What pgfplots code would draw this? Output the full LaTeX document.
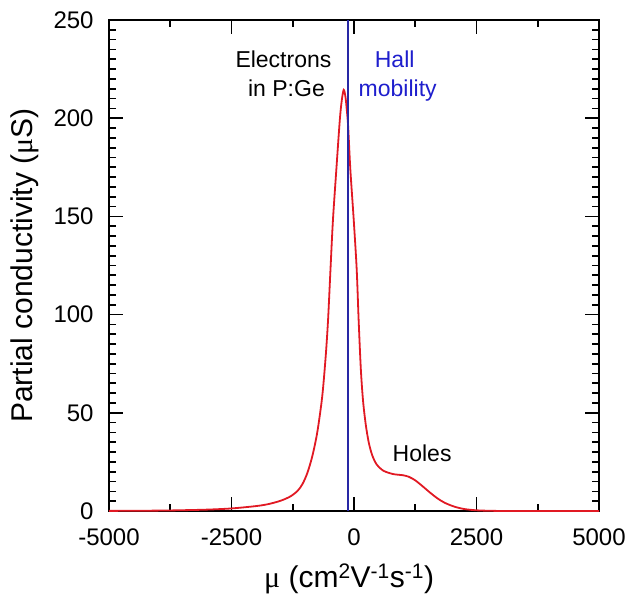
\documentclass[border=0pt]{standalone}
\usepackage{fontspec}
\setmainfont{Liberation Sans}
\newfontfamily\serifmu{Liberation Serif}
\usepackage{pgfplots}
\pgfplotsset{compat=1.18}
\definecolor{curvered}{RGB}{225,25,35}
\definecolor{lineblue}{RGB}{40,40,165}
\definecolor{textblue}{RGB}{30,30,205}

\begin{document}
\begin{tikzpicture}
\begin{axis}[
  at={(109pt,88pt)}, anchor=south west,
  width=490pt, height=491pt, scale only axis,
  xmin=-5000, xmax=5000, ymin=0, ymax=250,
  xtick={-5000,-2500,0,2500,5000},
  xticklabels={-5000,-2500,0,2500,5000},
  minor xtick={-3750,-1250,1250,3750},
  ytick={0,50,100,150,200,250},
  yticklabels={0,50,100,150,200,250},
  minor y tick num=9,
  tick align=inside,
  major tick length=14pt, minor tick length=7pt,
  line width=2.2pt,
  axis line style={line width=2.2pt},
  tick style={line width=1.7pt, black},
  tick label style={font=\fontsize{24}{28}\selectfont},
  xticklabel style={yshift=-13pt},
  yticklabel style={xshift=-11pt},
  xlabel={{\serifmu μ} (cm\textsuperscript{2}V\textsuperscript{-1}s\textsuperscript{-1})},
  ylabel={Partial conductivity ({\serifmu μ}S)},
  label style={font=\fontsize{30}{34}\selectfont},
  xlabel style={at={(axis description cs:0.49,-0.1385)}, anchor=center},
  ylabel style={at={(axis description cs:-0.1724,0.5)}, anchor=center},
  clip=false,
]
\addplot[curvered, line width=1.8pt, smooth, tension=0.5] coordinates {
(-5000,0.05) (-4000,0.2) (-3500,0.4) (-3000,0.7) (-2500,1.3) (-2000,2.5)
(-1750,3.5) (-1500,5.2) (-1300,7.4) (-1150,10.3) (-1050,13.8) (-950,19.5)
(-850,28) (-750,40) (-650,58) (-580,78) (-530,97) (-480,123) (-430,148) (-360,174)
(-290,199) (-250,209) (-210,214.4) (-175,211) (-150,205) (-120,196)
(-75,174) (-5,148) (55,123) (95,97) (140,72) (185,56) (240,44) (300,35)
(370,28.5) (460,23.8) (600,20.5) (800,18.8) (1000,18.2) (1120,17.4)
(1250,15.6) (1400,12.6) (1550,9.4) (1700,6.5) (1850,4.2) (2050,2.2)
(2250,1.0) (2500,0.35) (2800,0.1) (3200,0.0) (5000,0.0)
};
\addplot[lineblue, line width=2pt] coordinates {(-115,0) (-115,250)};
\node[anchor=base, font=\fontsize{23}{27}\selectfont] at (axis cs:-1440,225.9) {Electrons};
\node[anchor=base, font=\fontsize{23}{27}\selectfont] at (axis cs:-1378,211.3) {in P:Ge};
\node[anchor=base, textblue, font=\fontsize{23}{27}\selectfont] at (axis cs:830,225.9) {Hall};
\node[anchor=base, textblue, font=\fontsize{23}{27}\selectfont] at (axis cs:892,211.3) {mobility};
\node[anchor=base, font=\fontsize{23}{27}\selectfont] at (axis cs:1390,25.1) {Holes};
\end{axis}
\pgfresetboundingbox
\path[use as bounding box] (0pt,0pt) rectangle (630pt,599pt);
\end{tikzpicture}
\end{document}
